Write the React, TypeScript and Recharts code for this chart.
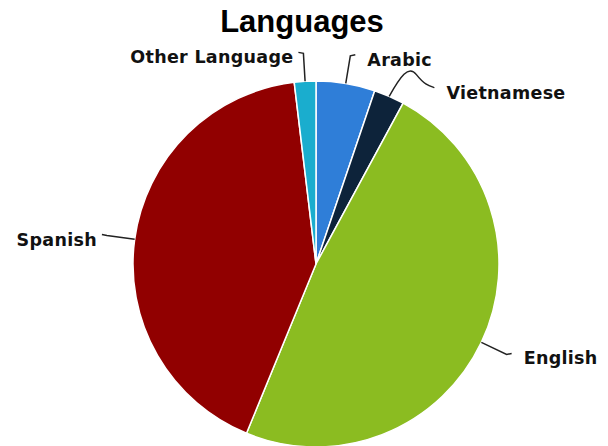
import { Pie, PieChart, Cell } from 'recharts';

const languages = ['Arabic', 'Vietnamese', 'English', 'Spanish', 'Other Language'];
const shares = [5.2, 2.7, 48.3, 41.9, 1.9];
const colors = ['#2f7ed8', '#0d233a', '#8bbc21', '#910000', '#1aadce'];

const data = languages.map((name, i) => ({ name, value: shares[i] }));

const RADIAN = Math.PI / 180;

// extra leader-line bend for labels that had to be pushed aside
const nudges: Record<string, { dx: number; dy: number }> = {
  Vietnamese: { dx: 34, dy: 17 },
};

function renderLabel(props: any) {
  const { cx, cy, midAngle, outerRadius, name } = props;
  const cos = Math.cos(-midAngle * RADIAN);
  const sin = Math.sin(-midAngle * RADIAN);
  const x0 = cx + outerRadius * cos;
  const y0 = cy + outerRadius * sin;
  const x1 = cx + (outerRadius + 28) * cos;
  const y1 = cy + (outerRadius + 28) * sin;
  const right = cos >= 0;
  const dir = right ? 1 : -1;
  const nudge = nudges[name];
  let d: string;
  let ex: number;
  let ey: number;
  if (nudge) {
    ex = x1 + nudge.dx;
    ey = y1 + nudge.dy;
    d = `M${x0},${y0} C${x1},${y1 + 6} ${x1 + 8},${y1 - 6} ${x1 + 16},${y1 + 4} S${ex - 6},${ey - 2} ${ex},${ey}`;
  } else {
    ex = x1 + dir * 5;
    ey = y1 - 1;
    d = `M${x0},${y0} L${x1},${y1} L${ex},${ey}`;
  }
  return (
    <g>
      <path d={d} fill="none" stroke="#222" strokeWidth={1.5} />
      <text
        x={ex + dir * (right ? 12 : 5)}
        y={ey + 6}
        textAnchor={right ? 'start' : 'end'}
        dominantBaseline="middle"
        fontFamily="DejaVu Sans"
        fontWeight="bold"
        fontSize={17.5}
        letterSpacing={0.3}
        fill="#111"
      >
        {name}
      </text>
    </g>
  );
}

export default function App() {
  return (
    <div style={{ position: 'fixed', left: 0, top: 0, width: 608, height: 446, background: '#fff' }}>
      <div
        style={{
          position: 'absolute',
          left: 0,
          top: 3,
          width: 604,
          textAlign: 'center',
          fontFamily: '"Liberation Sans", Arial, sans-serif',
          fontWeight: 'bold',
          fontSize: 31,
          lineHeight: '38px',
          color: '#000',
        }}
      >
        Languages
      </div>
      <PieChart width={608} height={446} margin={{ top: 0, right: 0, bottom: 0, left: 0 }}>
        <Pie
          data={data}
          dataKey="value"
          nameKey="name"
          cx={316}
          cy={264}
          outerRadius={183}
          startAngle={90}
          endAngle={-270}
          stroke="#fff"
          strokeWidth={1.5}
          label={renderLabel}
          labelLine={false}
          isAnimationActive={false}
        >
          {data.map((d, i) => (
            <Cell key={d.name} fill={colors[i]} />
          ))}
        </Pie>
      </PieChart>
    </div>
  );
}
